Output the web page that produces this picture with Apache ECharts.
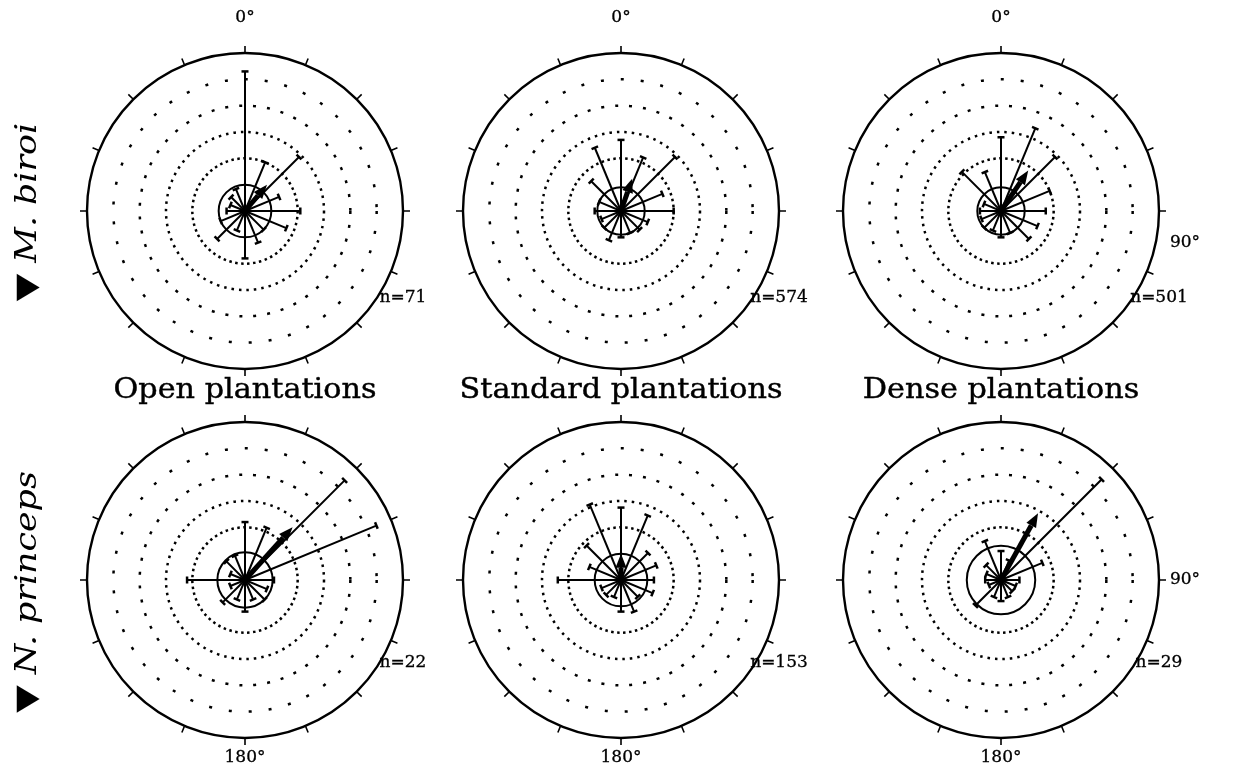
<!DOCTYPE html>
<html><head><meta charset="utf-8">
<script src="https://cdn.jsdelivr.net/npm/echarts/dist/echarts.min.js"></script>
<style>html,body{margin:0;padding:0;background:#fff}#c{width:1237px;height:773px}</style>
</head><body><div id="c"></div>
<script>
// Direction bins (degrees, clockwise from north)
const binAngles = [0,22.5,45,67.5,90,112.5,135,157.5,180,202.5,225,247.5,270,292.5,315,337.5];
// Ray lengths per bin (in ring units) for each panel
const raysBiroiOpen     = [5.3,2.0,2.9,1.4,2.1,1.7,1.0,1.3,1.8,0.8,1.5,1.0,0.7,0.6,0.75,0.9];
const raysBiroiStandard = [2.7,2.2,2.9,1.7,2.0,1.1,1.0,0.9,1.0,1.2,0.9,0.8,1.0,0.9,1.6,2.6];
const raysBiroiDense    = [2.8,3.4,2.9,2.0,1.7,1.5,1.5,0.9,1.0,0.8,0.9,0.8,0.8,0.7,2.1,1.6];
const raysPrincOpen     = [2.2,2.15,5.35,5.4,1.1,0.9,1.05,0.8,1.2,0.8,1.2,0.6,2.2,0.6,1.0,1.0];
const raysPrincStandard = [2.75,2.65,1.45,1.45,1.25,1.3,0.9,1.3,1.2,0.7,0.8,0.8,2.4,1.3,1.85,3.1];
const raysPrincDense    = [1.1,0.8,5.4,1.7,0.7,0.6,0.6,0.7,0.8,0.7,1.37,0.5,0.6,0.6,0.8,1.6];
// Mean vectors [length, angle]
const meanVectors = [[1.3,40],[1.3,19],[1.85,34],[2.7,42],[1.0,0],[2.9,29]];
// Inner solid circle radius per panel
const innerRadii = [1.0,0.9,0.9,1.05,1.0,1.3];
// Dotted reference rings
const ringLevels = [2,3,4,5];
const sampleSizes = ['n=71','n=574','n=501','n=22','n=153','n=29'];
const plantationLabels = ['Open plantations','Standard plantations','Dense plantations'];
const speciesLabels = ['M. biroi','N. princeps'];
const directionLabels = ['0°','90°','180°'];

const allRays = [raysBiroiOpen,raysBiroiStandard,raysBiroiDense,raysPrincOpen,raysPrincStandard,raysPrincDense];

const colX = [245,621,1001];
const rowY = [211,580];
const R = 158;
const serif = "'DejaVu Serif', serif";

const polar = [], angleAxis = [], radiusAxis = [], series = [];
for (let i = 0; i < 6; i++) {
  const cx = colX[i%3], cy = rowY[Math.floor(i/3)];
  polar.push({center:[cx,cy], radius:R});
  angleAxis.push({polarIndex:i, type:'value', min:0, max:360, interval:22.5, startAngle:90, clockwise:true,
    axisLine:{show:true, lineStyle:{color:'#000', width:2.4}},
    axisTick:{show:true, inside:false, length:7, lineStyle:{color:'#000', width:1.6}},
    axisLabel:{show:false}, splitLine:{show:false}});
  radiusAxis.push({polarIndex:i, type:'value', min:0, max:6,
    axisLine:{show:false}, axisTick:{show:false}, axisLabel:{show:false}, splitLine:{show:false}});

  const dashes = [[2.5,3.5],[2.5,5],[3,11],[3,17]];
  // rings
  series.push({type:'custom', coordinateSystem:'polar', polarIndex:i, silent:true,
    encode:{radius:0, angle:1},
    data: ringLevels.map(r => [r,0]),
    renderItem:(params, api) => {
      const c = api.coord([0,0]); const p = api.coord([api.value(0),0]);
      const rr = Math.hypot(p[0]-c[0], p[1]-c[1]);
      return {type:'circle', shape:{cx:c[0], cy:c[1], r:rr},
        style:{fill:null, stroke:'#000', lineWidth:2.5, lineDash:dashes[params.dataIndex]}};
    }});
  // inner circle
  series.push({type:'custom', coordinateSystem:'polar', polarIndex:i, silent:true,
    encode:{radius:0, angle:1},
    data: [[innerRadii[i],0]],
    renderItem:(params, api) => {
      const c = api.coord([0,0]); const p = api.coord([api.value(0),0]);
      const rr = Math.hypot(p[0]-c[0], p[1]-c[1]);
      return {type:'circle', shape:{cx:c[0], cy:c[1], r:rr},
        style:{fill:null, stroke:'#000', lineWidth:2}};
    }});
  // rays
  series.push({type:'custom', coordinateSystem:'polar', polarIndex:i, silent:true,
    encode:{radius:0, angle:1},
    data: allRays[i].map((v,k) => [v, binAngles[k]]),
    renderItem:(params, api) => {
      const a = api.value(1);
      const c = api.coord([0,a]); const p = api.coord([api.value(0),a]);
      const dx = p[0]-c[0], dy = p[1]-c[1]; const L = Math.hypot(dx,dy)||1;
      const nx = -dy/L, ny = dx/L, h = 3.5;
      return {type:'group', children:[
        {type:'line', shape:{x1:c[0],y1:c[1],x2:p[0],y2:p[1]}, style:{stroke:'#000', lineWidth:2}},
        {type:'line', shape:{x1:p[0]+nx*h,y1:p[1]+ny*h,x2:p[0]-nx*h,y2:p[1]-ny*h}, style:{stroke:'#000', lineWidth:2.5}}
      ]};
    }});
  // mean vector
  series.push({type:'custom', coordinateSystem:'polar', polarIndex:i, silent:true,
    encode:{radius:0, angle:1},
    data: [meanVectors[i]],
    renderItem:(params, api) => {
      const a = api.value(1);
      const c = api.coord([0,a]); const p = api.coord([api.value(0),a]);
      const dx = p[0]-c[0], dy = p[1]-c[1]; const L = Math.hypot(dx,dy)||1;
      const ux = dx/L, uy = dy/L, nx = -uy, ny = ux;
      const hl = 14, hw = 5.5;
      const bx = p[0]-ux*hl, by = p[1]-uy*hl;
      return {type:'group', children:[
        {type:'line', shape:{x1:c[0],y1:c[1],x2:bx,y2:by}, style:{stroke:'#000', lineWidth:5}},
        {type:'polygon', shape:{points:[[p[0],p[1]],[bx+nx*hw,by+ny*hw],[bx-nx*hw,by-ny*hw]]}, style:{fill:'#000'}}
      ]};
    }});
}

const graphic = [];
const smallFont = {fontFamily:serif, fontSize:17, fill:'#000', stroke:'#000', lineWidth:0.3};
colX.forEach((x,k) => {
  graphic.push({type:'text', x:x, y:rowY[0]-R-35, style:Object.assign({text:directionLabels[0], textAlign:'center', textVerticalAlign:'middle'}, smallFont)});
  graphic.push({type:'text', x:x, y:rowY[1]+R+20, style:Object.assign({text:directionLabels[2], textAlign:'center', textVerticalAlign:'middle'}, smallFont)});
  graphic.push({type:'text', x:x, y:391, scaleX:1.12, style:{text:plantationLabels[k], fontFamily:serif, fontSize:27, fill:'#000', textAlign:'center', textVerticalAlign:'middle', stroke:'#000', lineWidth:0.4}});
  graphic.push({type:'text', x:x+158, y:rowY[0]+87, style:Object.assign({text:sampleSizes[k], textAlign:'center', textVerticalAlign:'middle'}, smallFont)});
  graphic.push({type:'text', x:x+158, y:rowY[1]+83, style:Object.assign({text:sampleSizes[k+3], textAlign:'center', textVerticalAlign:'middle'}, smallFont)});
});
graphic.push({type:'text', x:1185, y:243, style:Object.assign({text:directionLabels[1], textAlign:'center', textVerticalAlign:'middle'}, smallFont)});
graphic.push({type:'text', x:1185, y:580, style:Object.assign({text:directionLabels[1], textAlign:'center', textVerticalAlign:'middle'}, smallFont)});
const speciesY = [212, 592];
speciesLabels.forEach((s,k) => {
  graphic.push({type:'text', x:28, y:speciesY[k], rotation:Math.PI/2, scaleX:1.2,
    style:{text:'{t|▼}{g| }{i|'+s+'}', textAlign:'center', textVerticalAlign:'middle',
      rich:{t:{fontFamily:'DejaVu Sans', fontSize:30, fill:'#000'},
            g:{fontSize:14, width:9},
            i:{fontFamily:serif, fontStyle:'italic', fontSize:29, fill:'#000'}}}});
});

const chart = echarts.init(document.getElementById('c'), null, {renderer:'canvas'});
chart.setOption({animation:false, backgroundColor:'#fff', polar, angleAxis, radiusAxis, series, graphic});
</script></body></html>
